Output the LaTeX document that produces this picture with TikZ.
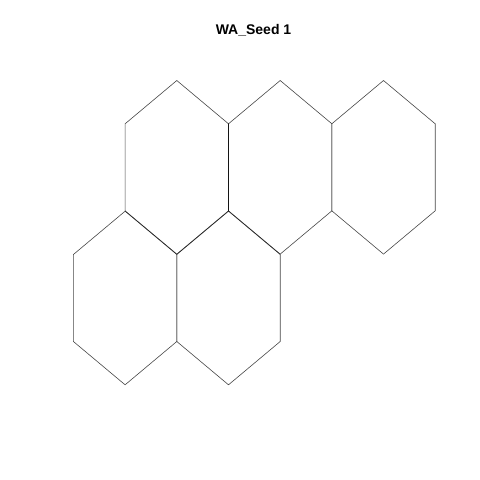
\documentclass[tikz,border=0pt]{standalone}
\usepackage{fontspec}
\setmainfont{Liberation Sans}
\begin{document}
\begin{tikzpicture}[x=1pt, y=-1pt,
    cell/.style={draw=black, draw opacity=0.72, line width=0.6pt, line join=miter}]
            % Canvas
            \useasboundingbox (0,0) rectangle (480,480);

            % Title
            \node[font=\bfseries\fontsize{14}{16}\selectfont] (title) at (253.5,30) {WA\_Seed 1};

            % Hexagon cells (centre x, centre y)
            \foreach \cx/\cy in {176.8/167.3, 280.2/167.3, 383.5/167.3, 125.1/298.0, 228.5/298.0} {
                \draw[cell] (\cx,\cy-86.8) -- (\cx+51.7,\cy-43.5) -- (\cx+51.7,\cy+43.5)
                    -- (\cx,\cy+86.8) -- (\cx-51.7,\cy+43.5) -- (\cx-51.7,\cy-43.5) -- cycle;
            }
        \end{tikzpicture}
\end{document}
